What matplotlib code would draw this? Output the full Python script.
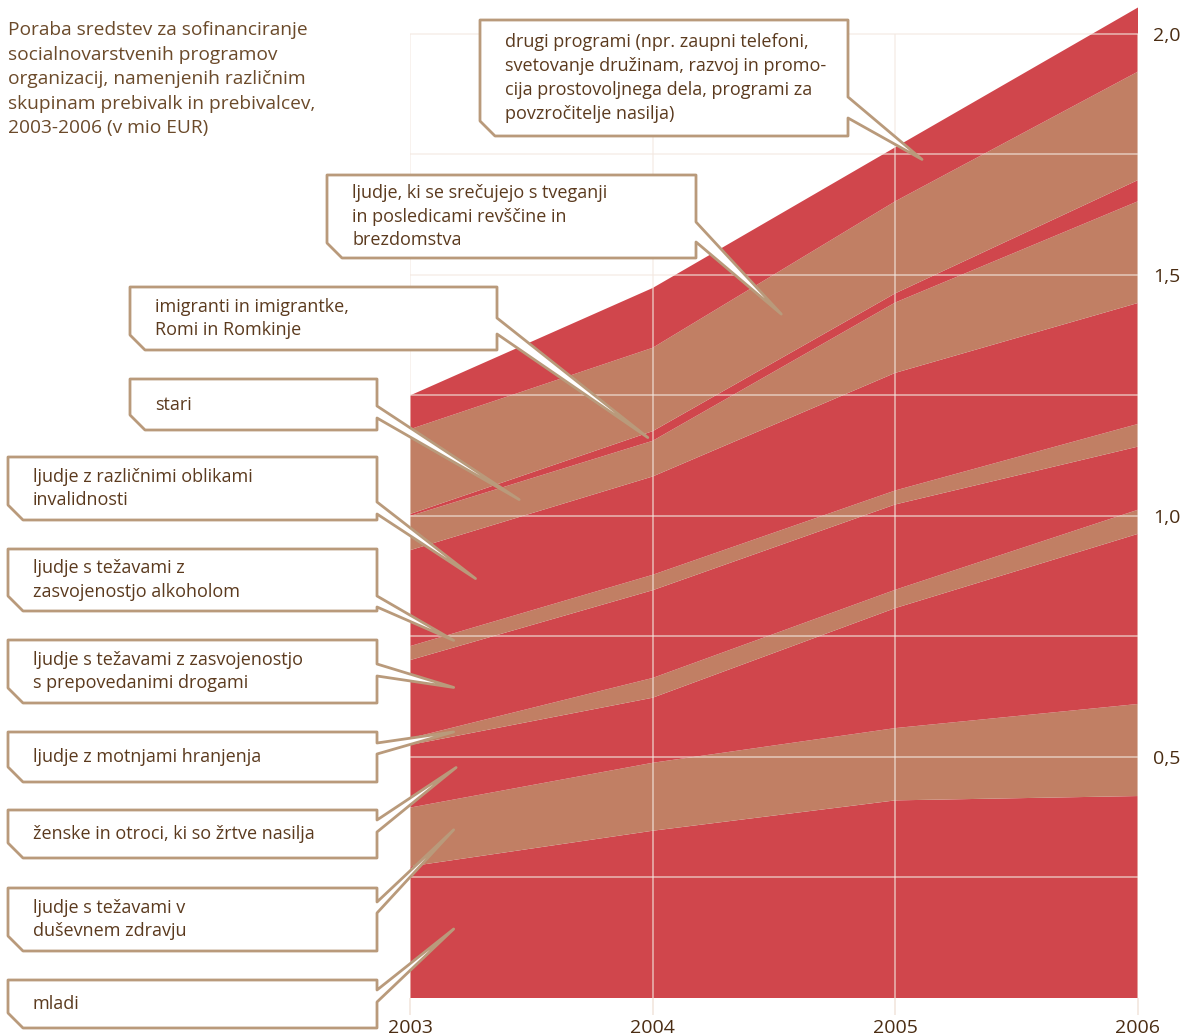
import matplotlib
matplotlib.use("Agg")
import matplotlib.pyplot as plt
from matplotlib.patches import Polygon
import numpy as np

plt.rcParams["font.family"] = ["Open Sans", "DejaVu Sans"]

# %% data (mio EUR), stacked bottom -> top
years = [2003, 2004, 2005, 2006]
mladi = [0.273, 0.347, 0.410, 0.419]
dusevno_zdravje = [0.122, 0.141, 0.150, 0.191]
zrtve_nasilja = [0.130, 0.135, 0.249, 0.353]
motnje_hranjenja = [0.014, 0.041, 0.038, 0.050]
droge = [0.162, 0.182, 0.177, 0.131]
alkohol = [0.029, 0.032, 0.029, 0.047]
invalidnost = [0.199, 0.204, 0.244, 0.251]
stari = [0.071, 0.074, 0.146, 0.211]
imigranti = [0.004, 0.020, 0.019, 0.044]
revscina = [0.176, 0.173, 0.191, 0.225]
drugi = [0.070, 0.124, 0.112, 0.133]

series = [mladi, dusevno_zdravje, zrtve_nasilja, motnje_hranjenja, droge, alkohol,
          invalidnost, stari, imigranti, revscina, drugi]
labels = [
    "mladi",
    "ljudje s težavami v\nduševnem zdravju",
    "ženske in otroci, ki so žrtve nasilja",
    "ljudje z motnjami hranjenja",
    "ljudje s težavami z zasvojenostjo\ns prepovedanimi drogami",
    "ljudje s težavami z\nzasvojenostjo alkoholom",
    "ljudje z različnimi oblikami\ninvalidnosti",
    "stari",
    "imigranti in imigrantke,\nRomi in Romkinje",
    "ljudje, ki se srečujejo s tveganji\nin posledicami revščine in\nbrezdomstva",
    "drugi programi (npr. zaupni telefoni,\nsvetovanje družinam, razvoj in promo-\ncija prostovoljnega dela, programi za\npovzročitelje nasilja)",
]
title = ("Poraba sredstev za sofinanciranje\nsocialnovarstvenih programov\n"
         "organizacij, namenjenih različnim\nskupinam prebivalk in prebivalcev,\n"
         "2003-2006 (v mio EUR)")
ytick_vals = [0.5, 1.0, 1.5, 2.0]
ytick_labels = ["0,5", "1,0", "1,5", "2,0"]

# %% styling
RED = "#D0464C"
BROWN = "#C17F64"
GRID = "#F3E8E0"
EDGE = "#B99A7B"
TXT = "#5B3A1E"
W, H = 1196, 1035

fig = plt.figure(figsize=(W / 100, H / 100), dpi=100)
ax = fig.add_axes([410 / W, 37 / H, 728 / W, 998 / H])
colors = [RED if i % 2 == 0 else BROWN for i in range(len(series))]
ax.stackplot(years, np.array(series), colors=colors, linewidth=0, zorder=1)
ax.set_xlim(2003, 2006)
ax.set_ylim(0, 2.0705)

grid_y = np.arange(0.25, 2.01, 0.25)
ax.hlines(grid_y, 2003, 2006, color=GRID, lw=1.3, alpha=0.6, zorder=3)
ax.vlines(years, 0, 2.0, color=GRID, lw=1.3, alpha=0.6, zorder=3)

for s in ax.spines.values():
    s.set_visible(False)
ax.set_xticks(years)
ax.set_xticklabels([str(y) for y in years])
ax.tick_params(axis="x", length=12, color=GRID, width=1.3, pad=3,
               labelsize=14, labelcolor="#4A2C12")
ax.yaxis.tick_right()
ax.set_yticks(ytick_vals)
ax.set_yticklabels(ytick_labels)
ax.tick_params(axis="y", length=0, pad=11, labelsize=14, labelcolor="#4A2C12")
ax.set_facecolor("none")

# %% callout boxes (pixel layout: left, top, right, bottom, pointer base y1, y2, tip year)
boxes = [
    (8, 980, 377, 1028, 990, 1002, 2003.18),
    (8, 888, 377, 951, 902, 913, 2003.18),
    (8, 810, 377, 858, 820, 832, 2003.19),
    (8, 732, 377, 782, 743, 754, 2003.18),
    (8, 640, 377, 703, 664, 676, 2003.18),
    (8, 549, 377, 611, 596, 607, 2003.18),
    (8, 457, 377, 520, 502, 514, 2003.27),
    (130, 379, 377, 430, 406, 418, 2003.45),
    (130, 287, 497, 350, 318, 334, 2003.98),
    (327, 175, 696, 258, 222, 242, 2004.53),
    (480, 20, 848, 136, 97, 118, 2005.11),
]

ov = fig.add_axes([0, 0, 1, 1], zorder=5)
ov.set_xlim(0, W)
ov.set_ylim(H, 0)
ov.axis("off")

fig.canvas.draw()
cum = np.cumsum(np.array(series), axis=0)
for i, (l, t, r, b, b1, b2, tx) in enumerate(boxes):
    top = np.interp(tx, years, cum[i])
    bot = np.interp(tx, years, cum[i - 1]) if i > 0 else 0.0
    px, py = ax.transData.transform((tx, (top + bot) / 2))
    tip = (px, H - py)
    c = 15
    pts = [(l, t), (r, t), (r, b1), tip, (r, b2), (r, b), (l + c, b), (l, b - c)]
    ov.add_patch(Polygon(pts, closed=True, fc="white", ec=EDGE, lw=2,
                         joinstyle="round"))
    ov.text(l + 25, (t + b) / 2, labels[i], ha="left", va="center",
            fontsize=13, color=TXT, linespacing=1.42)

ov.text(8, 21, title, ha="left", va="top", fontsize=13.8, color="#6B4A2A",
        linespacing=1.47)

fig.savefig("out.png", dpi=100)
